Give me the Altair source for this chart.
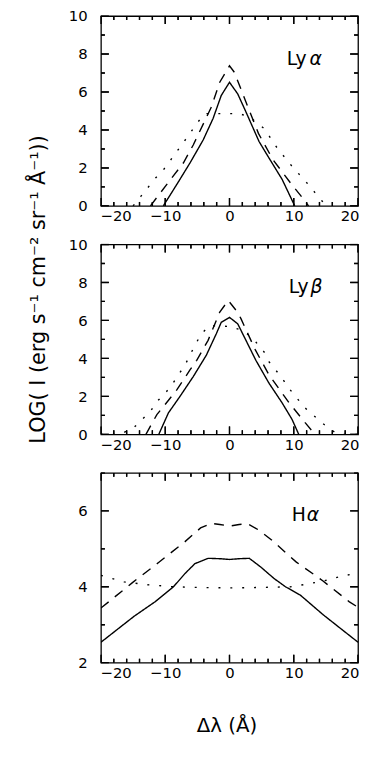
import altair as alt
import pandas as pd

FONT = "DejaVu Sans"
W, H = 260, 192

# ---------------- Ly alpha ----------------
lya_solid_x = [-10.3, -8.2, -6.15, -4.1, -2.56, -1.28, 0.0, 1.28, 2.56, 4.6, 6.15, 8.2, 10.15]
lya_solid_y = [0.0, 1.13, 2.26, 3.47, 4.6, 5.82, 6.51, 5.9, 4.95, 3.39, 2.52, 1.39, 0.0]
lya_dash_x = [-12.3, -8.97, -7.18, -5.64, -2.82, -1.54, 0.0, 0.77, 2.56, 4.5, 6.77, 9.74, 11.3, 12.3]
lya_dash_y = [0.0, 1.48, 2.26, 3.21, 5.21, 6.5, 7.38, 7.03, 5.47, 3.82, 2.43, 1.1, 0.45, 0.0]
lya_dot_x = [-15.0, -13.8, -11.5, -10.26, -8.2, -6.15, -5.1, -3.85, -2.0, 0.0, 1.5, 3.08, 5.38, 7.44, 9.74, 12.05, 13.3, 14.4, 15.0]
lya_dot_y = [0.0, 0.5, 1.47, 1.91, 2.86, 3.82, 4.34, 4.86, 4.86, 4.86, 4.86, 4.69, 4.08, 3.04, 2.08, 1.21, 0.7, 0.26, 0.0]

# ---------------- Ly beta ----------------
lyb_solid_x = [-11.0, -9.5, -7.7, -5.64, -3.6, -2.05, -1.28, 0.0, 1.28, 2.56, 4.1, 6.15, 8.2, 9.74, 10.77]
lyb_solid_y = [0.0, 1.13, 2.0, 3.04, 4.17, 5.3, 5.9, 6.16, 5.82, 4.95, 3.9, 2.69, 1.65, 0.78, 0.0]
lyb_dash_x = [-13.0, -12.3, -11.3, -10.26, -8.2, -6.15, -5.1, -3.33, -1.54, -0.2, 1.28, 1.8, 4.0, 6.15, 9.23, 11.8, 13.3]
lyb_dash_y = [0.0, 0.43, 1.04, 1.47, 2.34, 3.39, 3.9, 4.95, 6.42, 7.05, 6.42, 6.08, 4.46, 3.13, 1.68, 0.6, 0.0]
lyb_dot_x = [-20.0, -17.0, -14.9, -12.3, -11.28, -10.0, -8.97, -7.95, -6.92, -6.15, -5.38, -4.36, -3.08, -1.5, 0.0, 2.05, 3.08, 4.1, 5.38, 6.15, 7.18, 8.2, 9.23, 10.5, 11.5, 14.4, 16.4, 17.0, 20.0]
lyb_dot_y = [0.0, 0.0, 0.35, 1.21, 1.73, 2.17, 2.6, 3.13, 3.65, 4.17, 4.69, 5.3, 5.73, 5.7, 5.68, 5.47, 5.2, 4.86, 4.34, 3.82, 3.39, 2.95, 2.43, 1.91, 1.47, 0.6, 0.1, 0.0, 0.0]

# ---------------- H alpha ----------------
ha_solid_x = [-20.0, -14.87, -11.54, -8.72, -6.92, -5.38, -3.33, -1.5, 0.0, 1.5, 3.08, 4.87, 6.92, 8.72, 11.03, 14.6, 20.0]
ha_solid_y = [2.54, 3.22, 3.61, 4.0, 4.35, 4.61, 4.75, 4.74, 4.72, 4.74, 4.75, 4.52, 4.22, 4.0, 3.78, 3.26, 2.54]
ha_dash_x = [-20.0, -15.1, -11.03, -6.92, -4.5, -2.8, -1.5, 0.0, 1.5, 2.8, 4.5, 6.5, 10.4, 14.5, 18.6, 20.0]
ha_dash_y = [3.44, 4.11, 4.64, 5.19, 5.55, 5.67, 5.64, 5.6, 5.64, 5.66, 5.5, 5.24, 4.65, 4.16, 3.61, 3.46]
ha_dot_x = [-20.0, -16.4, -13.1, -8.7, -4.0, 0.0, 4.0, 9.5, 12.05, 13.85, 15.6, 17.4, 19.0, 20.0]
ha_dot_y = [4.3, 4.13, 4.06, 4.0, 3.98, 3.97, 3.98, 4.0, 4.07, 4.13, 4.19, 4.28, 4.33, 4.35]

# ---------------- axes / labels ----------------
x_domain = [-20, 20]
x_tick_values = list(range(-20, 21, 2))
x_label_values = [-20, -10, 0, 10, 20]
y_domain_ly = [0, 10]
y_ticks_ly = list(range(0, 11))
y_labels_ly = [0, 2, 4, 6, 8, 10]
y_domain_ha = [2, 7]
y_ticks_ha = list(range(2, 8))
y_labels_ha = [2, 4, 6]

panel_names = ["Ly", "Ly", "H"]
panel_greek = ["α", "β", "α"]
y_title = "LOG( I (erg s⁻¹ cm⁻² sr⁻¹ Å⁻¹))"
x_title = "Δλ  (Å)"

STYLES = ["solid", "dash", "dot", "tick"]
MAJ, MIN = 8, 4   # tick lengths in px


def make_panel(series, dash, ydomain, yticks, ylabels, name, greek, pos, ytitle=False, xtitle=False):
    xscale = alt.Scale(domain=x_domain, nice=False, zero=False)
    yscale = alt.Scale(domain=ydomain, nice=False, zero=False)

    xaxis_kw = dict(values=x_label_values, ticks=False, domain=False, grid=False,
                    labelFont=FONT, labelFontSize=15, labelPadding=3, labelColor="black",
                    labelFlush=True, labelFlushOffset=1)
    if xtitle:
        xaxis_kw.update(title=x_title, titleFont=FONT, titleFontSize=20, titleFontWeight="normal",
                        titleColor="black", titleX=127, titleY=70, titleAlign="center",
                        titleBaseline="alphabetic")
    else:
        xaxis_kw.update(title=None)

    yaxis_kw = dict(values=ylabels, ticks=False, domain=False, grid=False,
                    labelFont=FONT, labelFontSize=15, labelPadding=14, labelColor="black")
    if ytitle:
        yaxis_kw.update(title=y_title, titleFont=FONT, titleFontSize=21, titleFontWeight="normal",
                        titleColor="black", titleX=-57, titleY=45, titleAngle=270,
                        titleAlign="center", titleBaseline="alphabetic")
    else:
        yaxis_kw.update(title=None)

    X = alt.X("x:Q", scale=xscale, axis=alt.Axis(**xaxis_kw))
    Y = alt.Y("y:Q", scale=yscale, axis=alt.Axis(**yaxis_kw))

    rows = []
    for (xs, ys), st in zip(series, STYLES[:3]):
        for xv, yv in zip(xs, ys):
            rows.append({"x": float(xv), "y": float(yv), "seg": st, "style": st})

    # inward ticks on all four sides: short segments placed through the scales
    y0, y1 = ydomain
    x0, x1 = x_domain
    ky = (y1 - y0) / H
    kx = (x1 - x0) / W
    for v in x_tick_values:
        ln = MAJ if v % 10 == 0 else MIN
        for base, sgn, tag in ((y0, 1, "b"), (y1, -1, "t")):
            rows.append({"x": float(v), "y": float(base), "seg": f"{tag}{v}", "style": "tick"})
            rows.append({"x": float(v), "y": float(base + sgn * ln * ky), "seg": f"{tag}{v}", "style": "tick"})
    for v in yticks:
        ln = MAJ if v % 2 == 0 else MIN
        for base, sgn, tag in ((x0, 1, "l"), (x1, -1, "r")):
            rows.append({"x": float(base), "y": float(v), "seg": f"{tag}{v}", "style": "tick"})
            rows.append({"x": float(base + sgn * ln * kx), "y": float(v), "seg": f"{tag}{v}", "style": "tick"})

    lines = alt.Chart(pd.DataFrame(rows)).mark_line(color="black", clip=True).encode(
        x=X, y=Y,
        detail="seg:N",
        strokeDash=alt.StrokeDash("style:N", legend=None,
                                  scale=alt.Scale(domain=STYLES, range=[[1, 0], dash, [2, 10], [1, 0]])),
        strokeWidth=alt.StrokeWidth("style:N", legend=None,
                                    scale=alt.Scale(domain=STYLES, range=[1.4, 1.4, 1.8, 1.2])),
    )

    # tick marks also as stroked symbol paths sitting on the frame, pointing inward
    layers = [lines]
    xt_major = pd.DataFrame({"x": [float(v) for v in x_tick_values if v % 10 == 0]})
    xt_minor = pd.DataFrame({"x": [float(v) for v in x_tick_values if v % 10 != 0]})
    yt_major = pd.DataFrame({"y": [float(v) for v in yticks if v % 2 == 0]})
    yt_minor = pd.DataFrame({"y": [float(v) for v in yticks if v % 2 != 0]})
    sym = dict(filled=False, color="black", strokeWidth=1.2, opacity=1)
    for df, sz in ((xt_major, 256), (xt_minor, 64)):
        d = df.assign(yb=float(y0), yt=float(y1))
        layers.append(alt.Chart(d).mark_point(shape="M0,0L0,-1", size=sz, **sym).encode(
            x=X, y=alt.Y("yb:Q", scale=yscale, axis=alt.Axis(**yaxis_kw))))
        layers.append(alt.Chart(d).mark_point(shape="M0,0L0,1", size=sz, **sym).encode(
            x=X, y=alt.Y("yt:Q", scale=yscale, axis=alt.Axis(**yaxis_kw))))
    for df, sz in ((yt_major, 256), (yt_minor, 64)):
        d = df.assign(xl=float(x0), xr=float(x1))
        layers.append(alt.Chart(d).mark_point(shape="M0,0L1,0", size=sz, **sym).encode(
            y=Y, x=alt.X("xl:Q", scale=xscale, axis=alt.Axis(**xaxis_kw))))
        layers.append(alt.Chart(d).mark_point(shape="M0,0L-1,0", size=sz, **sym).encode(
            y=Y, x=alt.X("xr:Q", scale=xscale, axis=alt.Axis(**xaxis_kw))))

    layers.append(alt.Chart(pd.DataFrame({"t": [name]})).mark_text(
        align="left", baseline="alphabetic", font=FONT, fontSize=19, color="black"
    ).encode(text="t:N", x=alt.value(pos[0]), y=alt.value(49)))
    layers.append(alt.Chart(pd.DataFrame({"t": [greek]})).mark_text(
        align="left", baseline="alphabetic", font=FONT, fontSize=19, fontStyle="italic", color="black"
    ).encode(text="t:N", x=alt.value(pos[1]), y=alt.value(49)))
    return alt.layer(*layers).properties(width=W, height=H)


p1 = make_panel([(lya_solid_x, lya_solid_y), (lya_dash_x, lya_dash_y), (lya_dot_x, lya_dot_y)], [10, 8],
                y_domain_ly, y_ticks_ly, y_labels_ly, panel_names[0], panel_greek[0], (188, 211))
p2 = make_panel([(lyb_solid_x, lyb_solid_y), (lyb_dash_x, lyb_dash_y), (lyb_dot_x, lyb_dot_y)], [10, 8],
                y_domain_ly, y_ticks_ly, y_labels_ly, panel_names[1], panel_greek[1], (190, 212), ytitle=True)
p3 = make_panel([(ha_solid_x, ha_solid_y), (ha_dash_x, ha_dash_y), (ha_dot_x, ha_dot_y)], [15, 14],
                y_domain_ha, y_ticks_ha, y_labels_ha, panel_names[2], panel_greek[2], (193, 208), xtitle=True)

chart = alt.vconcat(p1, p2, p3, spacing=39, bounds="flush").properties(
    padding={"left": 19, "top": -4, "right": 0, "bottom": 0},
    background="white",
).configure_view(stroke="black", strokeWidth=1.3)

chart.save("out.html", embed_options={"renderer": "svg", "actions": False})
